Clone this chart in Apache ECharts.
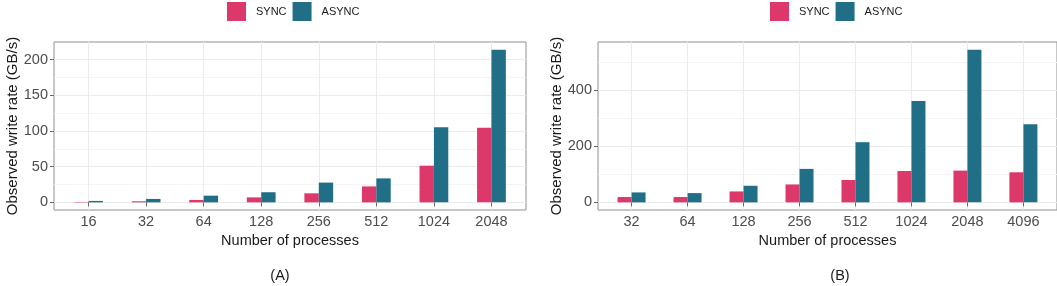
<!DOCTYPE html>
<html>
<head>
<meta charset="utf-8">
<script src="https://cdn.jsdelivr.net/npm/echarts@6/dist/echarts.min.js"></script>
<style>
html,body{margin:0;padding:0;background:#fff;}
#chart{width:1057px;height:286px;}
</style>
</head>
<body>
<div id="chart"></div>
<script>
// ---- data ----
var categoriesA = ['16','32','64','128','256','512','1024','2048'];
var syncA  = [0.6, 1.5, 3.4, 7.0, 12.7, 22.4, 51.4, 104.7];
var asyncA = [2.0, 4.8, 9.4, 14.2, 27.7, 33.6, 105.1, 214.0];
var majorTicksA = [0, 50, 100, 150, 200];
var minorTicksA = [25, 75, 125, 175];

var categoriesB = ['32','64','128','256','512','1024','2048','4096'];
var syncB  = [19.0, 19.0, 39.0, 64.0, 80.0, 112.0, 113.4, 107.4];
var asyncB = [35.5, 33.1, 59.2, 119.5, 214.8, 361.6, 545.3, 279.2];
var majorTicksB = [0, 200, 400];
var minorTicksB = [100, 300, 500];

var seriesNames = ['SYNC', 'ASYNC'];
var panelLabels = ['(A)', '(B)'];

// ---- styles ----
var FONT = 'Liberation Sans, Arial, sans-serif';
var COLORS = ['#dc396a', '#216f87'];

function positions(cats){ return cats.map(function(c,i){ return i+1; }); }

function buildPanel(idx, cats, sync, async, majors, minors, grid, legendLeft){
  var pos = positions(cats);
  var maxV = Math.max.apply(null, sync.concat(async));
  var yMin = -0.05*maxV, yMax = 1.05*maxV;
  var gridOpt = Object.assign({show:true, borderColor:'#8f8f8f', borderWidth:1, backgroundColor:'#fff', containLabel:false}, grid);
  var xAxis = {
    gridIndex: idx, type:'value', min: 0.4, max: cats.length + 0.6,
    axisLine:{show:false},
    axisTick:{show:true, length:4, customValues: pos, lineStyle:{color:'#666'}},
    axisLabel:{customValues: pos, margin:4, fontSize:14.5, color:'#4d4d4d', fontFamily:FONT,
      formatter:function(v){ return cats[Math.round(v)-1] || ''; }},
    splitLine:{show:true, lineStyle:{color:'#ebebeb', width:1}},
    name:'Number of processes', nameLocation:'middle', nameGap:22,
    nameTextStyle:{fontSize:14.5, color:'#1a1a1a', fontFamily:FONT}
  };
  var yMinor = {
    gridIndex: idx, type:'value', position:'left', min:yMin, max:yMax,
    axisLine:{show:false},
    axisTick:{show:false, customValues: minors},
    axisLabel:{show:false, customValues: minors},
    splitLine:{show:true, lineStyle:{color:'#f4f4f4', width:1}}
  };
  var yMajor = {
    gridIndex: idx, type:'value', position:'left', min:yMin, max:yMax,
    axisLine:{show:false},
    axisTick:{show:true, length:4, customValues: majors, lineStyle:{color:'#666'}},
    axisLabel:{customValues: majors, margin:6, fontSize:14.5, color:'#4d4d4d', fontFamily:FONT},
    splitLine:{show:true, lineStyle:{color:'#ebebeb', width:1}},
    name:'Observed write rate (GB/s)', nameLocation:'middle', nameGap:32,
    nameTextStyle:{fontSize:15, color:'#1a1a1a', fontFamily:FONT}
  };
  var vals = [sync, async];
  var series = vals.map(function(arr, s){
    return {
      type:'bar', name: seriesNames[s], xAxisIndex: idx, yAxisIndex: idx*2+1,
      barWidth:'25%', barGap:'0%',
      itemStyle:{color: COLORS[s]},
      data: pos.map(function(p,i){ return [p, arr[i]]; })
    };
  });
  var legend = {
    data: seriesNames, left: legendLeft, top: 2, orient:'horizontal', padding:0,
    itemWidth:19, itemHeight:19, itemGap:6, icon:'rect',
    textStyle:{fontSize:11, color:'#1a1a1a', fontFamily:FONT, padding:[0,0,0,5]}
  };
  return {grid:gridOpt, xAxis:xAxis, yAxes:[yMinor, yMajor], series:series, legend:legend};
}

var pA = buildPanel(0, categoriesA, syncA, asyncA, majorTicksA, minorTicksA,
  {left:54, top:42, width:472, height:168}, 227);
var pB = buildPanel(1, categoriesB, syncB, asyncB, majorTicksB, minorTicksB,
  {left:598, top:42, width:473, height:168}, 770);

var option = {
  animation:false,
  backgroundColor:'#fff',
  color: COLORS,
  legend:[pA.legend, pB.legend],
  grid:[pA.grid, pB.grid],
  xAxis:[pA.xAxis, pB.xAxis],
  yAxis:pA.yAxes.concat(pB.yAxes),
  series:pA.series.concat(pB.series),
  graphic:[
    {type:'text', x:280, y:276, style:{text:panelLabels[0], fontSize:14.5, fill:'#1a1a1a', fontFamily:FONT, textAlign:'center', textVerticalAlign:'middle'}},
    {type:'text', x:840, y:276, style:{text:panelLabels[1], fontSize:14.5, fill:'#1a1a1a', fontFamily:FONT, textAlign:'center', textVerticalAlign:'middle'}}
  ]
};

var chart = echarts.init(document.getElementById('chart'), null, {renderer:'canvas'});
chart.setOption(option);
</script>
</body>
</html>
